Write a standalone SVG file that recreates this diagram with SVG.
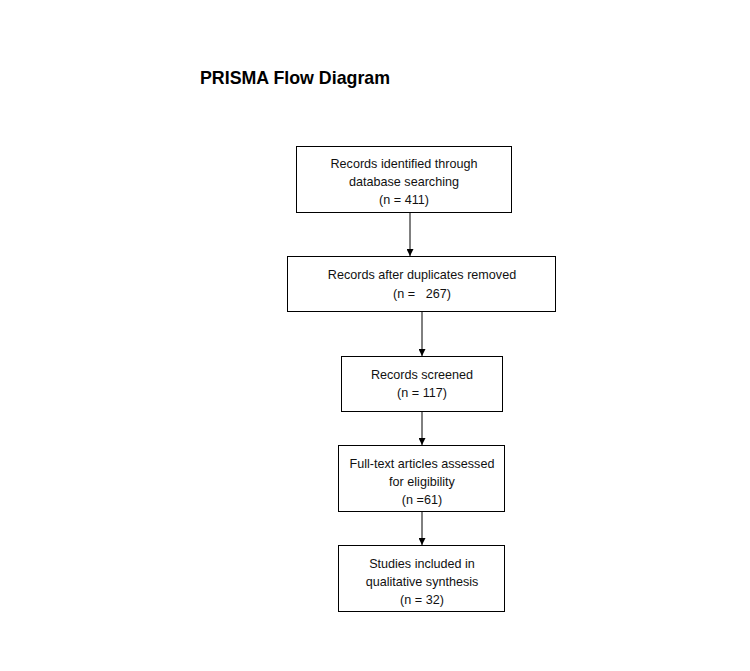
<svg xmlns="http://www.w3.org/2000/svg" width="750" height="671" viewBox="0 0 750 671">
<style>
.box{fill:#fff;stroke:#000;stroke-width:1}
.t{font-family:"Liberation Sans",Arial,sans-serif;font-size:12.6px;fill:#111;text-anchor:middle}
.title{font-family:"Liberation Sans",Arial,sans-serif;font-size:17.8px;font-weight:bold;fill:#000}
.c{stroke:#000;stroke-width:1;fill:none;marker-end:url(#ah)}
</style>
<defs>
<marker id="ah" viewBox="0 0 10 10" refX="10" refY="5" markerWidth="7" markerHeight="7" markerUnits="userSpaceOnUse" orient="auto">
<path d="M0,0 L10,5 L0,10 z" fill="#000"/>
</marker>
</defs>
<rect width="750" height="671" fill="#fff"/>
<text class="title" x="200" y="84">PRISMA Flow Diagram</text>
<g id="connectors">
<line class="c" x1="410" y1="212" x2="410" y2="256"/>
<line class="c" x1="422" y1="312" x2="422" y2="356"/>
<line class="c" x1="422" y1="411" x2="422" y2="445"/>
<line class="c" x1="422" y1="512" x2="422" y2="545"/>
</g>
<g id="n1">
<rect class="box" x="296.5" y="146.5" width="215" height="66"/>
<text class="t" x="404" y="168">Records identified through</text>
<text class="t" x="404" y="186">database searching</text>
<text class="t" x="404" y="204">(n = 411)</text>
</g>
<g id="n2">
<rect class="box" x="287.5" y="256.5" width="268" height="55"/>
<text class="t" x="422" y="279">Records after duplicates removed</text>
<text class="t" x="422" y="298" xml:space="preserve">(n =   267)</text>
</g>
<g id="n3">
<rect class="box" x="341.5" y="356.5" width="161" height="55"/>
<text class="t" x="422" y="379">Records screened</text>
<text class="t" x="422" y="397">(n = 117)</text>
</g>
<g id="n4">
<rect class="box" x="338.5" y="445.5" width="166" height="66"/>
<text class="t" x="422" y="468">Full-text articles assessed</text>
<text class="t" x="422" y="486">for eligibility</text>
<text class="t" x="422" y="504">(n =61)</text>
</g>
<g id="n5">
<rect class="box" x="338.5" y="545.5" width="166" height="66"/>
<text class="t" x="422" y="568">Studies included in</text>
<text class="t" x="422" y="586">qualitative synthesis</text>
<text class="t" x="422" y="604">(n = 32)</text>
</g>
</svg>
